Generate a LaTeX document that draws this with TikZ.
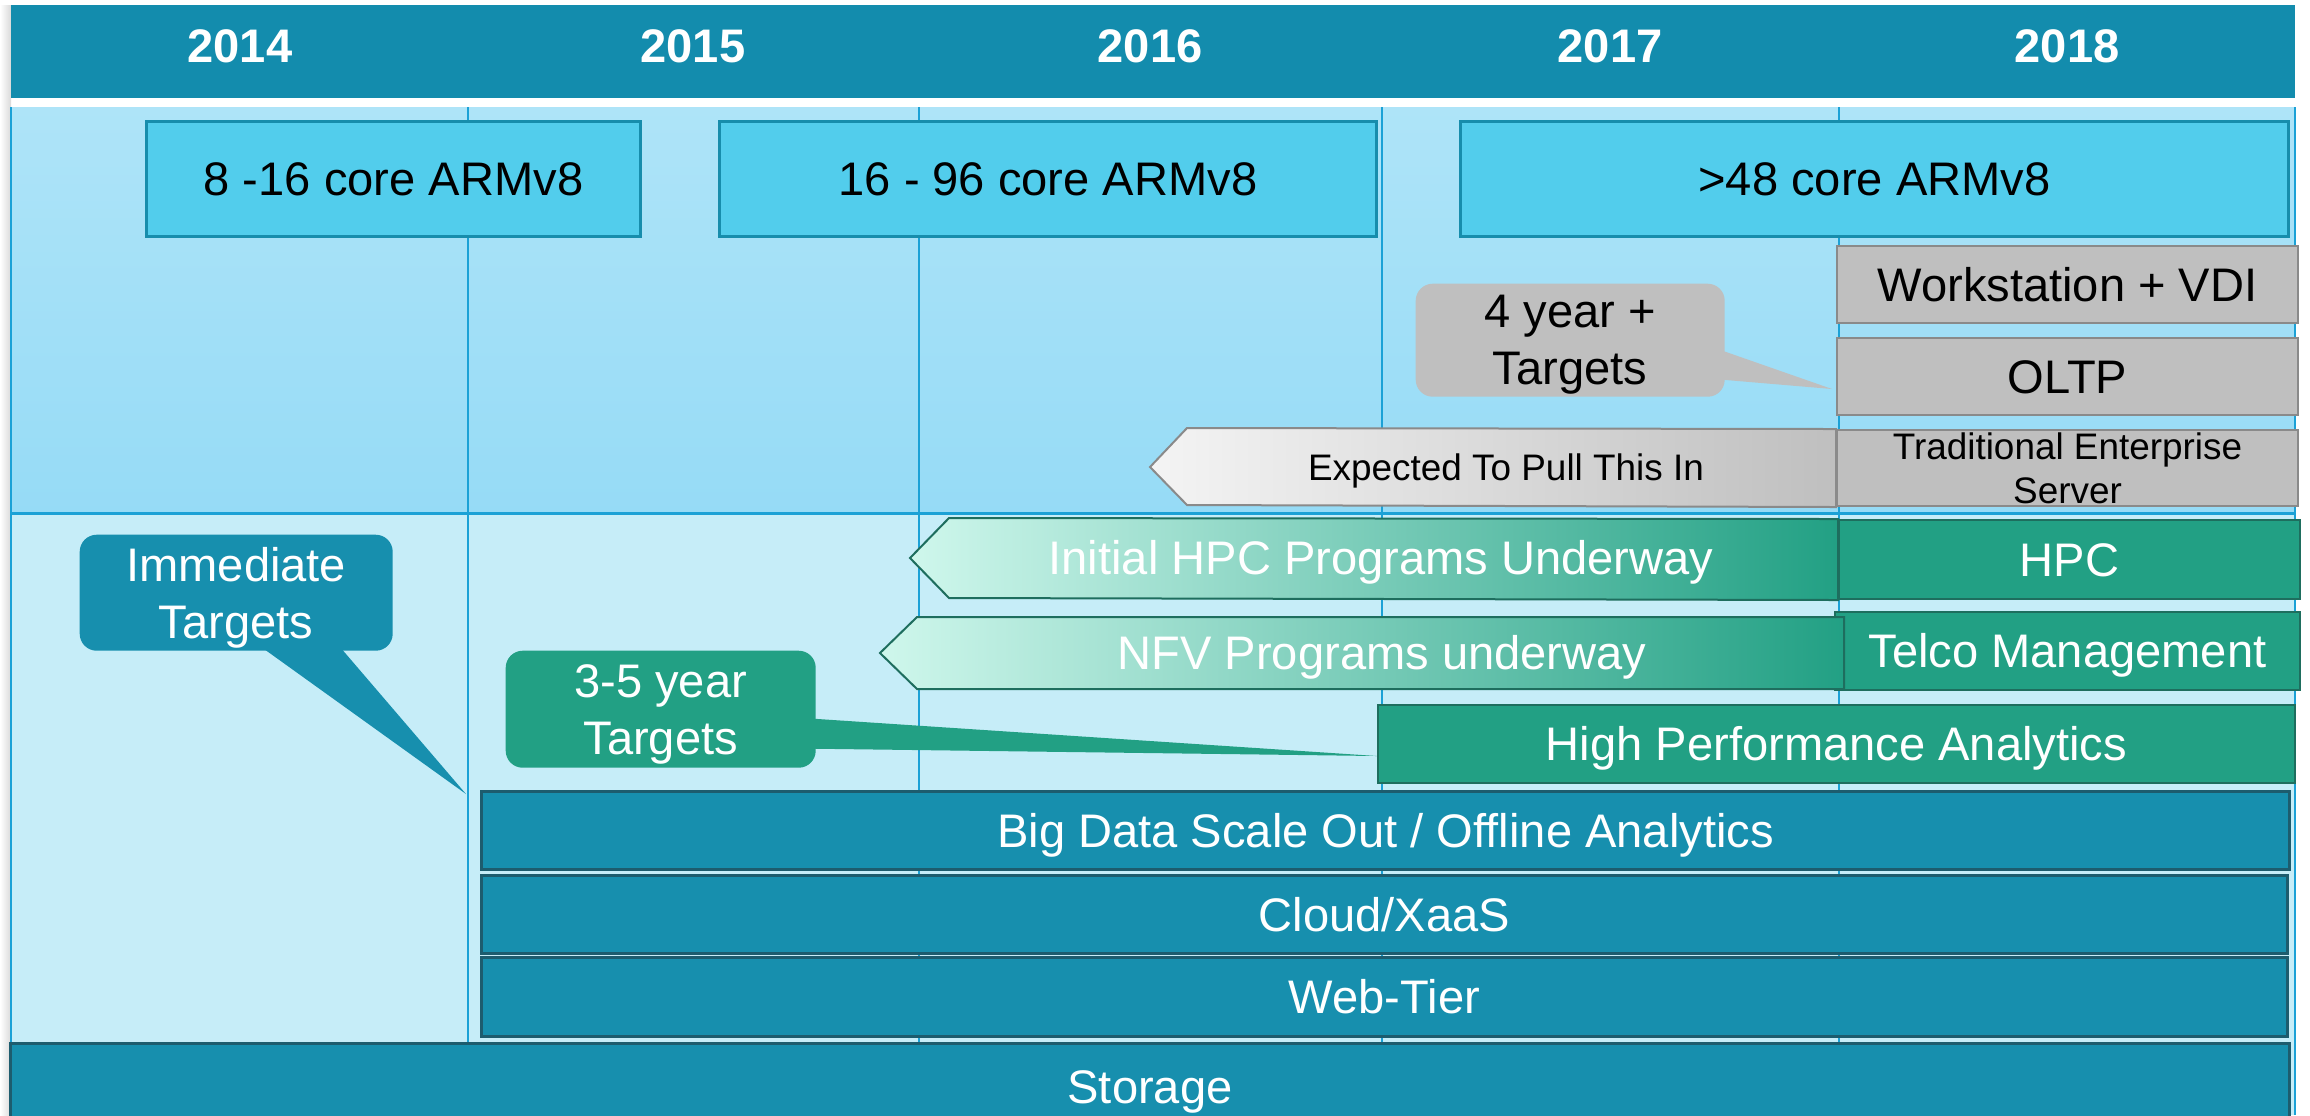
\documentclass[tikz,border=0pt]{standalone}
\usepackage{fontspec}
\setmainfont{Liberation Sans}
\usepackage{tikz}
\usetikzlibrary{calc}

\definecolor{headblue}{HTML}{138CAD}
\definecolor{skytop}{HTML}{AEE4F8}
\definecolor{skybot}{HTML}{96DBF6}
\definecolor{skylow}{HTML}{C6EDF8}
\definecolor{gridblue}{HTML}{1BA1D6}
\definecolor{armfill}{HTML}{52CDEC}
\definecolor{armline}{HTML}{178DAC}
\definecolor{greyfill}{HTML}{BFBFBF}
\definecolor{greyline}{HTML}{8A8A8A}
\definecolor{palegrey}{HTML}{F4F4F4}
\definecolor{greenfill}{HTML}{22A084}
\definecolor{greenline}{HTML}{1E6E5E}
\definecolor{mint}{HTML}{CFF7EC}
\definecolor{tealfill}{HTML}{178FAE}
\definecolor{tealline}{HTML}{1D5C6E}

\newcommand{\boxfont}{\fontsize{13.4}{16.2}\selectfont}
\newcommand{\notefont}{\fontsize{10.5}{12.7}\selectfont}

\tikzset{
	panel/.style={rectangle, anchor=north west, inner sep=0pt, font=\boxfont, text height=9.6pt, text depth=0pt},
	armbox/.style={panel, fill=armfill, draw=armline, line width=0.3mm},
	greybox/.style={panel, fill=greyfill, draw=greyline, line width=0.2mm},
	greenbox/.style={panel, fill=greenfill, draw=greenline, line width=0.2mm, text=white},
	tealbox/.style={panel, fill=tealfill, draw=tealline, line width=0.3mm, text=white},
	bubble/.style={rectangle, rounded corners=1.7mm, anchor=north west, inner sep=0pt, align=center, font=\boxfont, text depth=0pt},
	chevron/.style={draw=greenline, line width=0.2mm, left color=mint, right color=greenfill},
	gridline/.style={gridblue, line width=0.2mm}
}

\begin{document}
\begin{tikzpicture}[x=0.1mm, y=-0.1mm]
	\useasboundingbox (0,0) rectangle (2310,1115);
	
	% Background
	\shade[left color=white, right color=black!15] (0,5) rectangle (11,1115);
	\fill[headblue] (11,5) rectangle (2295,98);
	\shade[top color=skytop, bottom color=skybot] (11,107) rectangle (2295,514);
	\fill[skylow] (11,514) rectangle (2295,1115);
	\foreach \gx in {468, 919, 1382, 1839}
		\draw[gridline] (\gx,107) -- (\gx,1042);
	\draw[gridline] (11,107) -- (11,1115) (2295,107) -- (2295,1115);
	\draw[gridblue, line width=0.3mm] (11,513) -- (2295,513);
	
	% Years
	\foreach \yr/\cx in {2014/240, 2015/693, 2016/1150, 2017/1610, 2018/2067}
		\node[text=white, font=\boxfont\bfseries, text height=9.6pt, text depth=0pt] (y\yr) at (\cx,46) {\yr};
	
	% Cores
	\node[armbox, minimum width=49.4mm, minimum height=11.5mm] (arma) at (145,120) {8 -16 core ARMv8};
	\node[armbox, minimum width=65.7mm, minimum height=11.5mm] (armb) at (718,120) {16 - 96 core ARMv8};
	\node[armbox, minimum width=82.8mm, minimum height=11.5mm] (armc) at (1459,120) {>48 core ARMv8};
	
	% Grey targets
	\node[greybox, minimum width=46.1mm, minimum height=7.7mm] (vdi) at (1836,245) {Workstation + VDI};
	\node[greybox, minimum width=46.1mm, minimum height=7.7mm] (oltp) at (1836,337) {OLTP};
	\node[greybox, minimum width=46.1mm, minimum height=7.6mm, font=\notefont, align=center, text height=] (trad) at (1836,429) {Traditional Enterprise\\Server};
	\draw[draw=greyline, line width=0.2mm, left color=palegrey, right color=greyfill] (trad.north west) -- (1187,428) -- (1150,467) -- (1187,505) -- (trad.south west) -- cycle;
	\node[font=\notefont, text height=7.6pt, text depth=0pt] (pullnote) at (1506,467) {Expected To Pull This In};
	
	% Green targets
	\node[greenbox, minimum width=46.1mm, minimum height=7.9mm] (hpc) at (1838,519) {HPC};
	\node[greenbox, minimum width=46.5mm, minimum height=7.8mm] (telco) at (1834,611) {Telco Management};
	\node[greenbox, minimum width=91.7mm, minimum height=7.8mm] (hpa) at (1377,704) {High Performance Analytics};
	\draw[chevron] (hpc.north west) -- (949,518) -- (910,558) -- (949,598) -- (hpc.south west) -- cycle;
	\draw[chevron] (1844,617) -- (917,617) -- (880,653) -- (917,689) -- (1844,689) -- cycle;
	\node[text=white, font=\boxfont, text height=9.6pt, text depth=0pt] (hpcnote) at (1381,558) {Initial HPC Programs Underway};
	\node[text=white, font=\boxfont, text height=9.6pt, text depth=0pt] (nfvnote) at (1382,653) {NFV Programs underway};
	
	% Teal targets
	\node[tealbox, minimum width=180.8mm, minimum height=7.8mm] (bigdata) at (480,790) {Big Data Scale Out / Offline Analytics};
	\node[tealbox, minimum width=180.6mm, minimum height=7.8mm] (cloud) at (480,874) {Cloud/XaaS};
	\node[tealbox, minimum width=180.6mm, minimum height=7.9mm] (webtier) at (480,956) {Web-Tier};
	\node[tealbox, minimum width=227.9mm, minimum height=8.6mm] (storage) at (9,1042) {Storage};
	
	% Callouts
	\node[bubble, fill=tealfill, text=white, minimum width=31.3mm, minimum height=11.6mm] (immediate) at (79,534) {Immediate\\Targets};
	\fill[tealfill] ($(immediate.south)+(27,-3)$) -- ($(bigdata.north west)+(-14,4)$) -- ($(immediate.south)+(105,-3)$) -- cycle;
	\node[bubble, fill=greenfill, text=white, minimum width=31mm, minimum height=11.7mm] (midterm) at (505,650) {3-5 year\\Targets};
	\fill[greenfill] ($(midterm.east)+(-3,9.5)$) -- ($(hpa.west)+(0,12)$) -- ($(midterm.east)+(-3,39.5)$) -- cycle;
	\node[bubble, fill=greyfill, minimum width=30.9mm, minimum height=11.3mm] (longterm) at (1415,283) {4 year +\\Targets};
	\fill[greyfill] ($(longterm.east)+(-3,10.5)$) -- ($(oltp.south west)+(-4,-27)$) -- ($(longterm.east)+(-3,39.5)$) -- cycle;
\end{tikzpicture}
\end{document}
